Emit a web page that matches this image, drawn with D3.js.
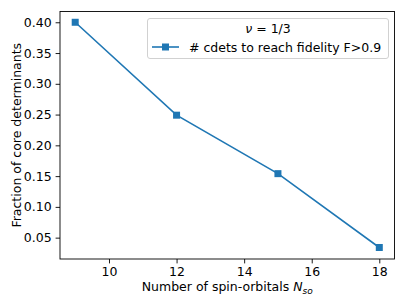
<!DOCTYPE html>
<html>
<head>
<meta charset="utf-8">
<script src="https://cdn.jsdelivr.net/npm/d3@7"></script>
<style>
  body { margin: 0; background: #fff; }
  svg { display: block; font-family: "DejaVu Sans", sans-serif; }
</style>
</head>
<body>
<div id="chart"></div>
<script>
'use strict';

const orbitals = [9, 12, 15, 18];
const fractions = [0.40, 0.249, 0.154, 0.034];
const xTicks = [10, 12, 14, 16, 18];
const yTicks = [0.05, 0.10, 0.15, 0.20, 0.25, 0.30, 0.35, 0.40];
const legendSymbol = "ν";
const legendTitle = " = 1/3";
const seriesLabel = "# cdets to reach fidelity F>0.9";

const width = 407;
const height = 305;
const margin = { top: 11.5, right: 12.5, bottom: 46, left: 60 };
const color = "#1f77b4";
const fontSize = "12.5px";

const svg = d3.select("#chart")
    .append("svg")
    .attr("width", width)
    .attr("height", height);

const x = d3.scaleLinear()
    .domain([8.55, 18.45])
    .range([margin.left, width - margin.right]);
const y = d3.scaleLinear()
    .domain([0.0153, 0.4175])
    .range([height - margin.bottom, margin.top]);

const data = orbitals.map((n, i) => [n, fractions[i]]);

// axes
const xAxis = svg.append("g")
    .attr("transform", `translate(0,${height - margin.bottom})`)
    .call(d3.axisBottom(x).tickValues(xTicks).tickSize(4.4).tickPadding(4).tickFormat(d3.format("d")));
const yAxis = svg.append("g")
    .attr("transform", `translate(${margin.left},0)`)
    .call(d3.axisLeft(y).tickValues(yTicks).tickSize(4.4).tickPadding(4).tickFormat(d3.format(".2f")));

[xAxis, yAxis].forEach(g => {
    g.select(".domain").remove();
    g.selectAll("line").attr("stroke", "#000").attr("stroke-width", 0.9);
    g.selectAll("text").attr("fill", "#000").style("font-size", fontSize).style("font-family", "DejaVu Sans");
});

// frame
svg.append("rect")
    .attr("x", margin.left)
    .attr("y", margin.top)
    .attr("width", width - margin.left - margin.right)
    .attr("height", height - margin.top - margin.bottom)
    .attr("fill", "none")
    .attr("stroke", "#000")
    .attr("stroke-width", 0.9);

// line + markers
svg.append("path")
    .datum(data)
    .attr("fill", "none")
    .attr("stroke", color)
    .attr("stroke-width", 1.6)
    .attr("d", d3.line().x(d => x(d[0])).y(d => y(d[1])));

const ms = 7;
svg.selectAll(".pt")
    .data(data)
    .join("rect")
    .attr("class", "pt")
    .attr("x", d => x(d[0]) - ms / 2)
    .attr("y", d => y(d[1]) - ms / 2)
    .attr("width", ms)
    .attr("height", ms)
    .attr("fill", color);

// axis labels
const xl = svg.append("text")
    .attr("x", (margin.left + width - margin.right) / 2)
    .attr("y", 291)
    .attr("text-anchor", "middle")
    .style("font-size", fontSize);
xl.append("tspan").text("Number of spin-orbitals ");
xl.append("tspan").attr("font-style", "italic").text("N");
xl.append("tspan").attr("font-style", "italic").attr("font-size", "9px").attr("dy", 2.5).text("so");

svg.append("text")
    .attr("transform", `translate(20.5,${(margin.top + height - margin.bottom) / 2}) rotate(-90)`)
    .attr("text-anchor", "middle")
    .style("font-size", fontSize)
    .text("Fraction of core determinants");

// legend
const lg = svg.append("g");
lg.append("rect")
    .attr("x", 147.5)
    .attr("y", 18.5)
    .attr("width", 241)
    .attr("height", 40)
    .attr("rx", 2.5)
    .attr("fill", "#fff")
    .attr("fill-opacity", 0.8)
    .attr("stroke", "#ccc")
    .attr("stroke-width", 0.9);
const tt = lg.append("text")
    .attr("x", 268)
    .attr("y", 33)
    .attr("text-anchor", "middle")
    .style("font-size", fontSize);
tt.append("tspan").attr("font-style", "italic").text(legendSymbol);
tt.append("tspan").text(legendTitle);
lg.append("line")
    .attr("x1", 152).attr("x2", 179)
    .attr("y1", 47).attr("y2", 47)
    .attr("stroke", color)
    .attr("stroke-width", 1.6);
lg.append("rect")
    .attr("x", 165.5 - ms / 2).attr("y", 47 - ms / 2)
    .attr("width", ms).attr("height", ms)
    .attr("fill", color);
lg.append("text")
    .attr("x", 189)
    .attr("y", 51.5)
    .style("font-size", fontSize)
    .text(seriesLabel);
</script>
</body>
</html>
